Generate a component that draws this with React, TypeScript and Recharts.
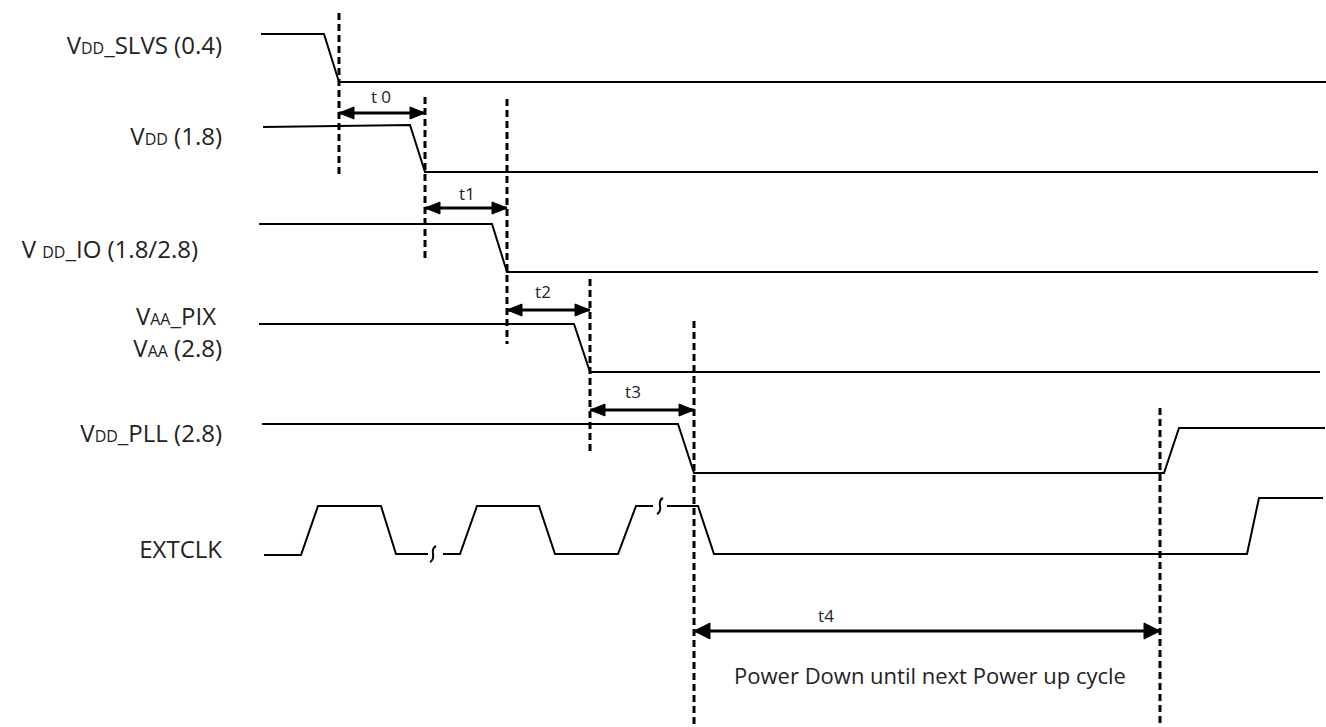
import React from 'react';
import { ComposedChart, Line, XAxis, YAxis, Scatter, ReferenceLine } from 'recharts';

const W = 1326;
const H = 727;

// Waveforms: t = time position, v = vertical level (diagram units, top = 0)
const vddSlvs = [{ t: 261, v: 34 }, { t: 324, v: 34 }, { t: 339, v: 82 }, { t: 1326, v: 82 }];
const vdd = [{ t: 263, v: 127 }, { t: 410, v: 125 }, { t: 425, v: 172 }, { t: 1318, v: 172 }];
const vddIo = [{ t: 259, v: 224 }, { t: 492, v: 224 }, { t: 507, v: 272 }, { t: 1318, v: 272 }];
const vaa = [{ t: 259, v: 324 }, { t: 574, v: 324 }, { t: 590, v: 372 }, { t: 1320, v: 372 }];
const vddPll = [
  { t: 262, v: 424 }, { t: 678, v: 424 }, { t: 694, v: 473 }, { t: 1164, v: 473 },
  { t: 1179, v: 428 }, { t: 1325, v: 428 },
];
const extclkA = [
  { t: 264, v: 555 }, { t: 301, v: 555 }, { t: 318, v: 506 }, { t: 381, v: 506 },
  { t: 396, v: 554 }, { t: 428, v: 554 },
];
const extclkB = [
  { t: 443, v: 554 }, { t: 460, v: 554 }, { t: 477, v: 506 }, { t: 539, v: 506 },
  { t: 555, v: 554 }, { t: 618, v: 554 }, { t: 636, v: 506 }, { t: 653, v: 506 },
];
const extclkC = [
  { t: 667, v: 506 }, { t: 698, v: 506 }, { t: 714, v: 554 }, { t: 1247, v: 554 },
  { t: 1259, v: 498 }, { t: 1323, v: 498 },
];
const breakMarks = [{ t: 433, v: 554 }, { t: 660, v: 506 }];

// Timing markers (dashed) : time, from level, to level
const markers = [
  { t: 339, v1: 13, v2: 175 },
  { t: 425, v1: 97, v2: 259 },
  { t: 507, v1: 99, v2: 344 },
  { t: 590, v1: 279, v2: 453 },
  { t: 694, v1: 321, v2: 727 },
  { t: 1160, v1: 408, v2: 727 },
];

// Interval arrows
const intervals = [
  { name: 't 0', t1: 339, t2: 425, v: 113, lv: 103 },
  { name: 't1', t1: 425, t2: 507, v: 208, lv: 200 },
  { name: 't2', t1: 507, t2: 590, v: 310, lv: 298 },
  { name: 't3', t1: 590, t2: 694, v: 410, lv: 398 },
  { name: 't4', t1: 694, t2: 1160, v: 631, lv: 622 },
];
const intervalLabelT = [381, 467, 543, 633, 826];

// Signal labels: [main, subscript, rest]
const signalText = [
  ['V', 'DD', '_SLVS (0.4)'],
  ['V', 'DD', ' (1.8)'],
  ['V ', 'DD', '_IO (1.8/2.8)'],
  ['V', 'AA', '_PIX'],
  ['V', 'AA', ' (2.8)'],
  ['V', 'DD', '_PLL (2.8)'],
  ['EXTCLK', '', ''],
];
const signalLabelPos = [
  { t: 222, v: 54 }, { t: 222, v: 145 }, { t: 198, v: 258 }, { t: 216, v: 325 },
  { t: 222, v: 357 }, { t: 222, v: 442 }, { t: 222, v: 558 },
];
const noteText = 'Power Down until next Power up cycle';
const notePos = [{ t: 930, v: 684 }];

const FONT = '"Open Sans", "Noto Sans", sans-serif';
const INK = '#000';
const TXT = '#222';

const signalLabelData = signalLabelPos.map((p, i) => ({ ...p, parts: signalText[i] }));
const intervalLabelData = intervals.map((iv, i) => ({ t: intervalLabelT[i], v: iv.lv, name: iv.name }));

const LabelShape = (props: any) => {
  const { cx, cy, payload } = props;
  const [a, b, c] = payload.parts;
  return (
    <text x={cx} y={cy} textAnchor="end" fontFamily={FONT} fontSize={24} fill={TXT}>
      <tspan>{a}</tspan>
      {b ? <tspan fontSize={16}>{b}</tspan> : null}
      {c ? <tspan>{c}</tspan> : null}
    </text>
  );
};

const SmallLabel = (props: any) => (
  <text x={props.cx} y={props.cy} textAnchor="middle" fontFamily={FONT} fontSize={17} fill={TXT}>
    {props.payload.name}
  </text>
);

const NoteShape = (props: any) => (
  <text x={props.cx} y={props.cy} textAnchor="middle" fontFamily={FONT} fontSize={22} fill={TXT}>
    {noteText}
  </text>
);

const BreakShape = (props: any) => {
  const { cx, cy } = props;
  return (
    <path
      d={`M ${cx + 3} ${cy - 8} Q ${cx - 1} ${cy - 6} ${cx} ${cy} Q ${cx + 1} ${cy + 6} ${cx - 3} ${cy + 8}`}
      fill="none"
      stroke={INK}
      strokeWidth={2}
    />
  );
};

const makeArrowDot = (len: number, half: number) => (props: any) => {
  const { cx, cy, index } = props;
  const d = index === 0 ? 1 : -1;
  const pts = `${cx},${cy} ${cx + d * len},${cy - half} ${cx + d * len},${cy + half}`;
  return <polygon key={`ah-${index}-${cx}`} points={pts} fill={INK} stroke={INK} strokeWidth={1} />;
};

const waves = [vddSlvs, vdd, vddIo, vaa, vddPll, extclkA, extclkB, extclkC];

export default function App() {
  return (
    <div style={{ position: 'absolute', left: 0, top: 0, width: W, height: H, background: '#fff' }}>
      <ComposedChart width={W} height={H} margin={{ top: 0, right: 0, bottom: 0, left: 0 }}>
        <XAxis type="number" dataKey="t" domain={[0, W]} hide height={0} allowDataOverflow />
        <YAxis type="number" dataKey="v" domain={[0, H]} reversed hide width={0} allowDataOverflow />
        {markers.map((m, i) => (
          <ReferenceLine
            key={`mk${i}`}
            segment={[{ x: m.t, y: m.v1 }, { x: m.t, y: m.v2 }]}
            stroke={INK}
            strokeWidth={3}
            strokeDasharray="7 4"
            ifOverflow="visible"
          />
        ))}
        {waves.map((w, i) => (
          <Line
            key={`w${i}`}
            data={w}
            dataKey="v"
            type="linear"
            stroke={INK}
            strokeWidth={2}
            dot={false}
            activeDot={false}
            isAnimationActive={false}
          />
        ))}
        {intervals.map((iv, i) => (
          <Line
            key={`iv${i}`}
            data={[{ t: iv.t1, v: iv.v }, { t: iv.t2, v: iv.v }]}
            dataKey="v"
            type="linear"
            stroke={INK}
            strokeWidth={3}
            dot={i === 4 ? makeArrowDot(16, 8) : makeArrowDot(15, 6)}
            activeDot={false}
            isAnimationActive={false}
          />
        ))}
        <Scatter data={breakMarks} dataKey="v" shape={BreakShape} isAnimationActive={false} />
        <Scatter data={signalLabelData} dataKey="v" shape={LabelShape} isAnimationActive={false} />
        <Scatter data={intervalLabelData} dataKey="v" shape={SmallLabel} isAnimationActive={false} />
        <Scatter data={notePos} dataKey="v" shape={NoteShape} isAnimationActive={false} />
      </ComposedChart>
    </div>
  );
}
